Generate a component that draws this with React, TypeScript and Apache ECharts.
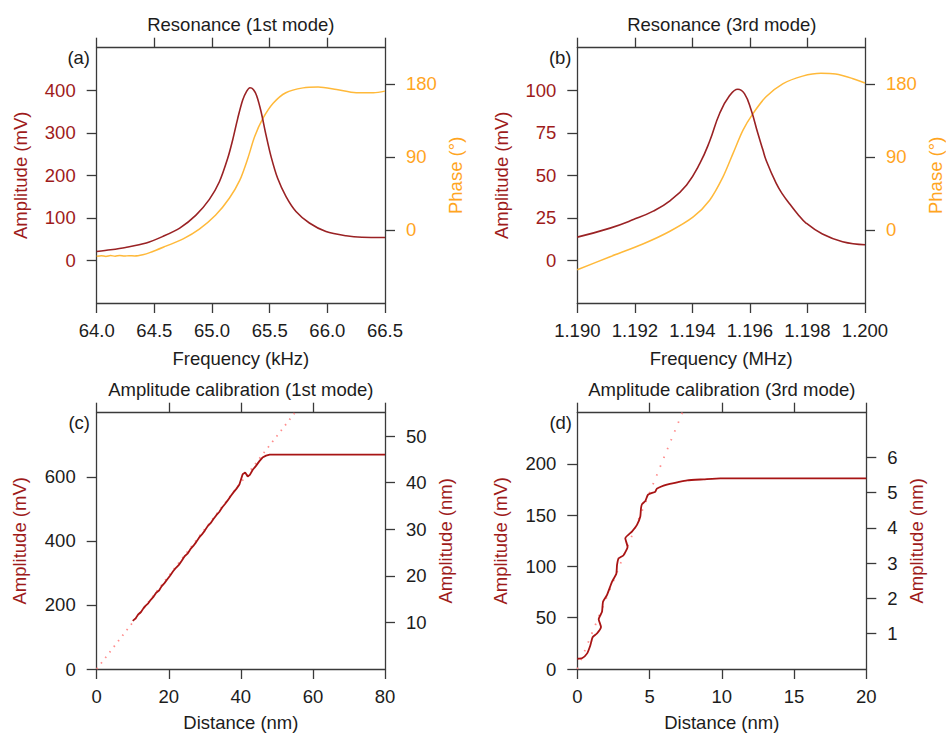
import React, { useEffect, useRef } from 'react';
import * as echarts from 'echarts';

const FONT = '"Liberation Sans", Arial, Helvetica, sans-serif';
const RED = '#9e1b1b';
const ORANGE = '#ffa51f';
const PHASE_LINE = '#ffb93a';
const AMP_LINE = '#9a2224';
const CAL_LINE = '#a81414';
const DOT_LINE = '#ff8c8c';
const AXIS = '#3a3a3a';
const BLACK = '#1c1c1c';

// ---- Panel (a): resonance 1st mode ----
const freqAmpA = [64.0, 64.12, 64.25, 64.43, 64.57, 64.72, 64.861, 64.977, 65.064, 65.136, 65.179, 65.223, 65.266, 65.301, 65.329, 65.358, 65.387, 65.425, 65.468, 65.512, 65.569, 65.642, 65.728, 65.844, 65.988, 66.162, 66.3, 66.5];
const ampA = [21, 25, 30.5, 41, 56, 76, 106.5, 143.5, 185, 240, 283, 334, 377, 398, 406, 402, 387, 350, 295, 244, 193, 150, 115, 88, 68, 58, 54.5, 54];
const freqPhaseA = [64.0, 64.04, 64.08, 64.12, 64.16, 64.2, 64.24, 64.28, 64.33, 64.4, 64.46, 64.6, 64.75, 64.89, 65.03, 65.15, 65.24, 65.31, 65.37, 65.44, 65.53, 65.64, 65.79, 65.92, 66.08, 66.25, 66.4, 66.5];
const phaseA = [-32.5, -31.8, -32.6, -31.6, -32.3, -31.4, -32.2, -31.7, -32, -30.5, -28, -20, -11, 1, 18, 39, 61, 88, 115, 137, 156, 169, 175, 176, 173, 169, 169, 171];

// ---- Panel (b): resonance 3rd mode ----
const freqAmpB = [1.19, 1.19114, 1.19195, 1.19264, 1.19322, 1.1938, 1.19426, 1.1946, 1.19495, 1.1953, 1.19558, 1.19581, 1.19604, 1.19627, 1.19645, 1.19656, 1.19691, 1.19715, 1.19737, 1.19765, 1.19795, 1.19852, 1.19922, 1.2];
const ampB = [13.7, 19, 24, 29, 35, 44.4, 57, 70, 86.5, 97, 100.6, 98, 88.5, 75, 65, 59, 45.4, 38.5, 33.5, 27.5, 22, 15.5, 11, 9.2];
const freqPhaseB = [1.19, 1.19114, 1.1923, 1.19322, 1.19403, 1.1946, 1.19506, 1.19541, 1.19576, 1.1961, 1.19656, 1.19714, 1.19783, 1.19847, 1.19898, 1.19956, 1.2];
const phaseB = [-49, -33, -17, -1.6, 16, 36.6, 65, 94, 123, 143, 164, 180, 189.5, 193, 192, 186.6, 181];

// ---- Panel (c): amplitude calibration 1st mode ----
const distC = [10.0, 10.8, 11.5, 12.3, 13.0, 13.6, 14.3, 15.0, 15.8, 16.5, 17.3, 18.0, 18.8, 19.6, 20.4, 21.2, 22.0, 22.8, 23.6, 24.4, 25.2, 26.0, 26.8, 27.6, 28.4, 29.2, 30.0, 30.8, 31.6, 32.4, 33.2, 34.0, 34.8, 35.6, 36.4, 37.2, 38.0, 38.8, 39.6, 40.5, 41.2, 41.9, 42.5, 43.3, 44.2, 45.1, 46.0, 47.0, 48.0, 55, 60, 70, 80];
const ampC = [150, 158, 170, 178, 190, 198, 205, 216, 226, 238, 245, 258, 268, 280, 292, 305, 316, 325, 338, 352, 360, 374, 384, 396, 410, 420, 432, 446, 455, 468, 480, 490, 504, 515, 527, 540, 552, 563, 576, 608, 613, 601, 606, 622, 634, 648, 660, 666, 669, 669, 669, 669, 669];
const dotDistC = [0, 55];
const dotAmpC = [0, 800];

// ---- Panel (d): amplitude calibration 3rd mode ----
const distD = [0, 0.35, 0.67, 0.9, 1.06, 1.36, 1.64, 1.48, 1.71, 1.78, 2.05, 2.4, 2.7, 2.75, 2.86, 3.2, 3.48, 3.32, 3.78, 4.13, 4.36, 4.41, 4.48, 4.71, 4.89, 5.4, 5.5, 6.2, 6.9, 7.6, 8.74, 9.9, 13.8, 20];
const ampD = [10, 10.8, 15, 23, 31, 34.6, 41, 48.6, 55.8, 65.6, 72, 85, 93, 101.5, 108, 111, 119, 127.6, 134, 140.6, 148.8, 157, 160.8, 164, 170, 173, 175.9, 179.8, 182, 184, 185, 186, 186, 186];
const dotDistD = [0, 7.27];
const dotAmpD = [0, 250];

// ---- tick values ----
const xTicksA = [64.0, 64.5, 65.0, 65.5, 66.0, 66.5];
const xTicksB = [1.19, 1.192, 1.194, 1.196, 1.198, 1.2];
const xTicksC = [0, 20, 40, 60, 80];
const xTicksD = [0, 5, 10, 15, 20];
const ampTicksA = [0, 100, 200, 300, 400];
const ampTicksB = [0, 25, 50, 75, 100];
const phaseTicks = [0, 90, 180];
const ampTicksC = [0, 200, 400, 600];
const nmTicksC = [10, 20, 30, 40, 50];
const ampTicksD = [0, 50, 100, 150, 200];
const nmTicksD = [1, 2, 3, 4, 5, 6];

const zip = (xs: number[], ys: number[]) => xs.map((x, i) => [x, ys[i]]);

const FS = 18.5;

function axisCommon() {
  return {
    type: 'value' as const,
    splitLine: { show: false },
    axisLine: { show: true, onZero: false, lineStyle: { color: AXIS, width: 1.3 } },
    nameTextStyle: { fontFamily: FONT, fontSize: FS },
  };
}

function xBottom(grid: number, min: number, max: number, ticks: number[], fmt: (v: number) => string, name: string, gap: number) {
  return {
    ...axisCommon(),
    gridIndex: grid,
    position: 'bottom',
    min,
    max,
    axisTick: { show: true, inside: false, length: 10, customValues: ticks, lineStyle: { color: AXIS, width: 1.3 } },
    axisLabel: { show: true, customValues: ticks, formatter: fmt, margin: 18, color: BLACK, fontFamily: FONT, fontSize: FS },
    name,
    nameLocation: 'middle',
    nameGap: gap,
    nameTextStyle: { fontFamily: FONT, fontSize: FS, color: BLACK },
  };
}

function xTop(grid: number, min: number, max: number, ticks: number[]) {
  return {
    ...axisCommon(),
    gridIndex: grid,
    position: 'top',
    min,
    max,
    axisTick: { show: true, inside: false, length: 10, customValues: ticks, lineStyle: { color: AXIS, width: 1.3 } },
    axisLabel: { show: false },
  };
}

function yAxis(grid: number, pos: 'left' | 'right', min: number, max: number, ticks: number[], labelColor: string, name: string, nameColor: string, gap: number) {
  return {
    ...axisCommon(),
    gridIndex: grid,
    position: pos,
    min,
    max,
    axisTick: { show: true, inside: false, length: 10, customValues: ticks, lineStyle: { color: AXIS, width: 1.3 } },
    axisLabel: { show: true, customValues: ticks, margin: 21, color: labelColor, fontFamily: FONT, fontSize: FS },
    name,
    nameLocation: 'middle',
    nameGap: gap,
    nameTextStyle: { fontFamily: FONT, fontSize: FS, color: nameColor },
  };
}

function line(xi: number, yi: number, data: number[][], color: string, width: number, extra: any = {}) {
  return {
    type: 'line',
    xAxisIndex: xi,
    yAxisIndex: yi,
    data,
    showSymbol: false,
    symbol: 'none',
    lineStyle: { color, width },
    ...extra,
  };
}

function text(x: number, y: number, t: string, align: string) {
  return {
    type: 'text',
    x,
    y,
    style: { text: t, fontFamily: FONT, fontSize: FS, fill: BLACK, align, verticalAlign: 'middle' },
  };
}

export default function App() {
  const ref = useRef<HTMLDivElement>(null);
  useEffect(() => {
    if (!ref.current) return;
    const chart = echarts.init(ref.current, undefined, { renderer: 'svg' });
    const grids = [
      { left: 96.7, top: 47.7, width: 288.3, height: 255.3 },
      { left: 577.3, top: 47.7, width: 289, height: 255.3 },
      { left: 96.7, top: 412.7, width: 288.3, height: 256.3 },
      { left: 577.3, top: 412.7, width: 289, height: 256.3 },
    ];
    const f1 = (v: number) => v.toFixed(1);
    const f3 = (v: number) => v.toFixed(3);
    const f0 = (v: number) => String(Math.round(v));
    const option: any = {
      animation: false,
      backgroundColor: '#ffffff',
      grid: grids.map((g) => ({ ...g, containLabel: false })),
      xAxis: [
        xBottom(0, 64.0, 66.5, xTicksA, f1, 'Frequency (kHz)', 46),
        xTop(0, 64.0, 66.5, xTicksA),
        xBottom(1, 1.19, 1.2, xTicksB, f3, 'Frequency (MHz)', 46),
        xTop(1, 1.19, 1.2, xTicksB),
        xBottom(2, 0, 80, xTicksC, f0, 'Distance (nm)', 44),
        xTop(2, 0, 80, xTicksC),
        xBottom(3, 0, 20, xTicksD, f0, 'Distance (nm)', 44),
        xTop(3, 0, 20, xTicksD),
      ],
      yAxis: [
        yAxis(0, 'left', -100, 500, ampTicksA, RED, 'Amplitude (mV)', RED, 67),
        yAxis(0, 'right', -90, 224.5, phaseTicks, ORANGE, 'Phase (°)', ORANGE, 61),
        yAxis(1, 'left', -25, 125, ampTicksB, RED, 'Amplitude (mV)', RED, 66),
        yAxis(1, 'right', -90, 224.5, phaseTicks, ORANGE, 'Phase (°)', ORANGE, 61),
        yAxis(2, 'left', 0, 800, ampTicksC, BLACK, 'Amplitude (mV)', RED, 68),
        yAxis(2, 'right', 0, 55, nmTicksC, BLACK, 'Amplitude (nm)', RED, 51),
        yAxis(3, 'left', 0, 250, ampTicksD, BLACK, 'Amplitude (mV)', RED, 67),
        yAxis(3, 'right', 0, 7.27, nmTicksD, BLACK, 'Amplitude (nm)', RED, 41),
      ],
      series: [
        line(0, 1, zip(freqPhaseA, phaseA), PHASE_LINE, 1.5, { smooth: 0.3 }),
        line(0, 0, zip(freqAmpA, ampA), AMP_LINE, 1.6, { smooth: 0.3 }),
        line(2, 3, zip(freqPhaseB, phaseB), PHASE_LINE, 1.5, { smooth: 0.3 }),
        line(2, 2, zip(freqAmpB, ampB), AMP_LINE, 1.6, { smooth: 0.45 }),
        line(4, 4, zip(dotDistC, dotAmpC), DOT_LINE, 1.8, { lineStyle: { color: DOT_LINE, width: 1.8, type: [1.5, 5.5] } }),
        line(4, 4, zip(distC, ampC), CAL_LINE, 1.8),
        line(6, 6, zip(dotDistD, dotAmpD), DOT_LINE, 1.8, { lineStyle: { color: DOT_LINE, width: 1.8, type: [1.5, 8] } }),
        line(6, 6, zip(distD, ampD), CAL_LINE, 1.8, { smooth: 0.15 }),
      ],
      graphic: [
        text(240.8, 24, 'Resonance (1st mode)', 'center'),
        text(721.8, 24, 'Resonance (3rd mode)', 'center'),
        text(240.8, 389.3, 'Amplitude calibration (1st mode)', 'center'),
        text(721.8, 389.3, 'Amplitude calibration (3rd mode)', 'center'),
        text(90, 57.3, '(a)', 'right'),
        text(571.5, 57.3, '(b)', 'right'),
        text(90, 422.3, '(c)', 'right'),
        text(572, 422.3, '(d)', 'right'),
      ],
    };
    chart.setOption(option);
    return () => chart.dispose();
  }, []);
  return (
    <div
      ref={ref}
      style={{ position: 'fixed', left: 0, top: 0, width: 946, height: 733, background: '#fff' }}
    />
  );
}
